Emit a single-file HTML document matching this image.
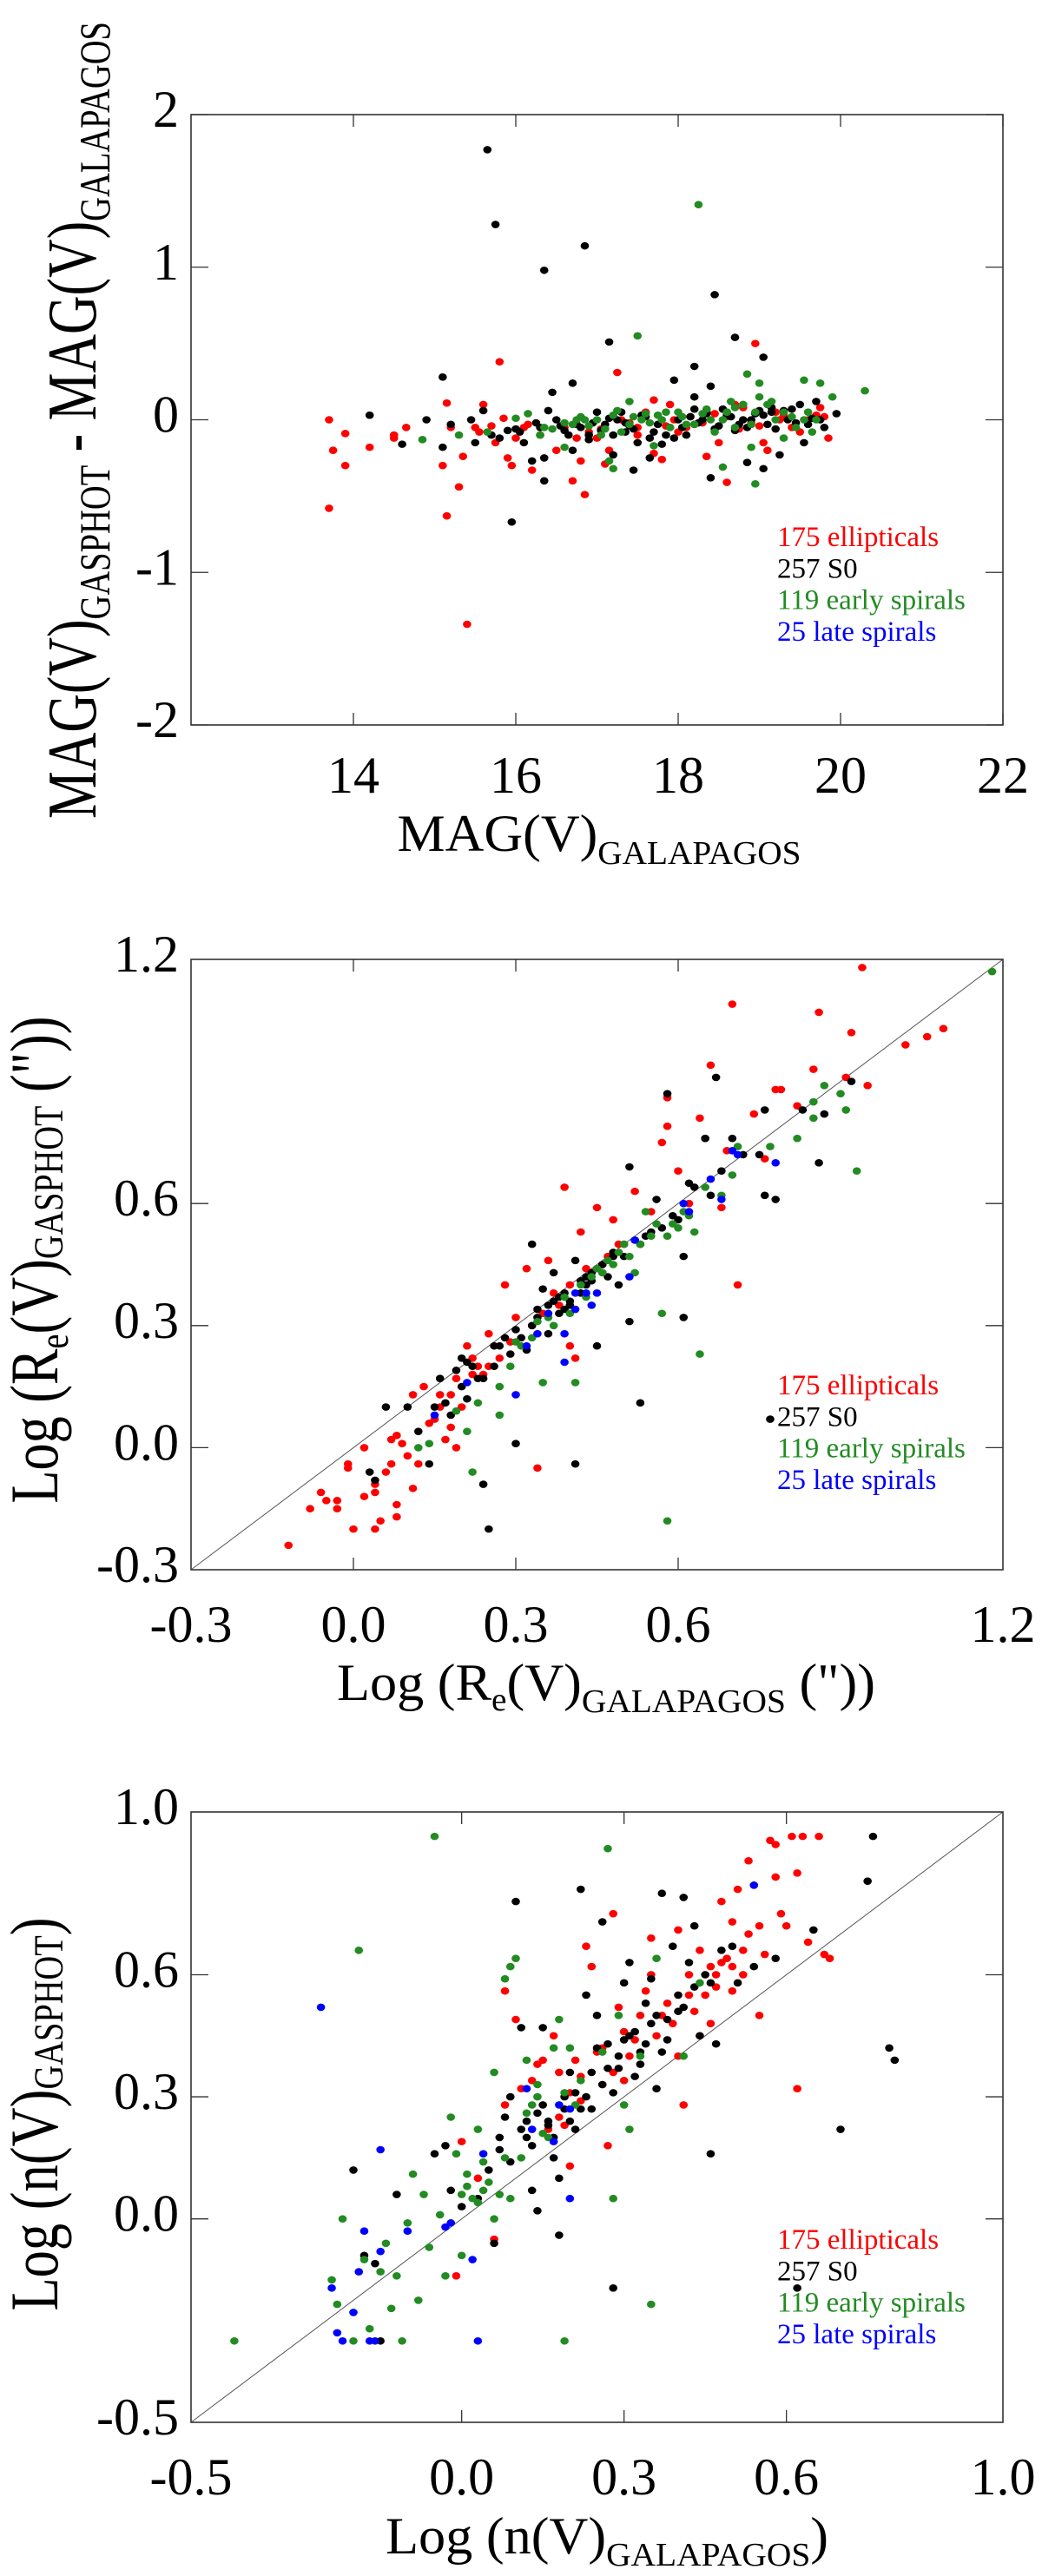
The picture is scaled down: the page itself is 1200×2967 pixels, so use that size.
<!DOCTYPE html>
<html><head><meta charset="utf-8"><style>
html,body{margin:0;padding:0;background:#fff;}
svg{display:block;}
svg text{font-family:"Liberation Serif","DejaVu Serif",serif;}
</style></head><body>
<svg id="fig" width="1200" height="2967" viewBox="0 0 1200 2967" xmlns="http://www.w3.org/2000/svg" font-family="Liberation Serif, serif"></svg>
<script>
// ---------- Panel 1 data: MAG(V) ----------
const p1Ticks = [14,16,18,20,22];
const p1YTicks = [-2,-1,0,1,2];
const p1RedX = [13.7,13.75,13.9,13.9,13.7,14.2,14.5,14.5,14.65,15.1,15.15,15.15,15.3,15.35,15.4,15.6,15.8,15.9,15.95,16.2,16.7,16.85,17.25,18.95,18.6,18.35,17.7,17.8,17.1,16.8,15.2,15.5,15.7,15.85,16.1,16.3,17.0,17.5,18.0,18.3,18.6,18.8,19.0,19.2,19.4,19.6,19.8,19.85,19.75,17.7,17.3,18.1,19.1,19.05,18.5,17.9,16.6,16.9,17.5,18.7,19.3,16.0,16.5,17.15,17.6,15.55,15.75,16.15,16.75,17.05,17.4,17.85,18.15,18.45,18.9,19.25,19.5,19.7,17.95,18.75];
const p1RedY = [0,-0.2,-0.09,-0.3,-0.58,-0.18,-0.1,-0.12,-0.05,-0.3,-0.63,0.11,-0.44,-0.24,-1.34,0.1,0.38,-0.25,-0.3,-0.33,-0.4,-0.49,0.31,0.5,-0.41,-0.24,-0.22,-0.26,-0.29,-0.27,-0.05,-0.05,-0.04,0.01,-0.05,-0.1,-0.12,-0.1,-0.08,-0.02,0.02,0.08,-0.04,0.05,-0.05,0,0.02,-0.12,0.08,0.13,0,-0.05,-0.2,-0.15,-0.15,0.1,-0.05,-0.08,-0.05,0.1,0.03,-0.12,-0.2,-0.2,0.05,-0.08,-0.15,-0.03,-0.12,-0.06,-0.02,-0.04,0.02,0.04,-0.02,0.0,-0.08,0.03,0.0,-0.06];
const p1BlackX = [14.2,14.6,14.9,15.1,15.1,15.2,15.45,15.5,15.6,15.65,15.75,15.95,16.0,16.1,16.2,16.35,16.35,16.35,16.45,16.7,16.7,16.85,17.15,17.2,17.45,17.8,17.95,18.2,18.2,18.4,18.45,18.7,19.05,18.4,19.05,18.85,19.25,19.95,19.7,19.5,19.55,19.15,18.9,18.6,18.2,17.9,17.6,17.3,17.0,16.8,16.5,16.3,15.9,15.8,16.6,17.1,17.4,17.7,18.0,18.3,18.5,18.8,19.1,19.35,19.6,19.8,17.2,17.5,18.1,18.7,16.9,19.4,18.55,17.65,16.9,19.0,18.2,17.35,16.4,15.7,16.05,16.25,16.55,16.65,16.95,17.05,17.25,17.45,17.55,17.75,17.85,18.05,18.15,18.25,18.35,18.45,18.65,18.75,18.95,19.2,19.3,19.45,19.65,19.75,16.75,17.15,17.65,18.35,18.85,19.15,17.35,17.95,18.6,19.05];
const p1BlackY = [0.03,-0.16,0,-0.18,0.28,-0.03,0,-0.15,0.06,1.77,1.28,-0.67,-0.06,-0.15,-0.27,-0.4,0.98,-0.25,0.18,-0.2,0.24,1.14,0.51,-0.23,-0.33,-0.16,0.26,0.35,0.15,0.22,0.82,0.54,0.41,-0.38,-0.32,-0.28,-0.23,0.04,0.12,0.1,-0.15,0.05,0,0.05,0.07,-0.05,0.02,0.05,0.05,-0.05,0,-0.05,-0.07,-0.12,-0.07,-0.03,-0.04,-0.08,0,0,-0.04,0,-0.03,0,-0.03,-0.05,-0.1,-0.15,-0.1,-0.07,-0.13,0.07,0.07,-0.25,-0.1,0.06,-0.03,-0.02,0.06,-0.1,-0.08,-0.02,-0.04,-0.1,-0.02,-0.07,0.0,-0.06,0.03,-0.03,-0.1,-0.05,0.02,-0.02,0.04,-0.06,0.02,-0.03,0.04,-0.06,0.06,-0.02,0.01,0.0,-0.03,0.01,-0.12,0.05,-0.05,0.08,-0.08,-0.12,0.03,0.03];
const p1GreenX = [14.85,15.3,15.65,16.0,16.15,16.35,16.6,16.75,17.05,17.15,17.2,17.5,17.4,17.7,18.25,18.55,18.85,18.95,19.0,19.55,19.75,19.9,20.3,18.9,19.3,19.6,19.7,19.0,18.8,18.6,18.4,18.2,18.0,17.8,17.6,17.4,17.2,17.0,16.8,16.9,17.3,17.55,17.75,18.05,18.3,18.7,19.1,19.3,19.45,19.65,17.9,18.45,16.3,16.6,18.7,19.2,16.45,16.85,17.25,17.45,17.65,17.85,18.1,18.35,18.55,18.8,18.95,19.15,19.4,19.55,16.7,17.1,18.65,18.9];
const p1GreenY = [-0.13,-0.1,-0.08,0.01,0.04,-0.05,-0.18,0,-0.1,-0.27,-0.32,0.55,0.12,-0.17,1.41,-0.31,0.3,-0.42,0.24,0.26,0.24,0.15,0.19,-0.18,-0.12,0.05,0,0.15,0.1,0.05,0,-0.03,0.05,0,0.04,-0.03,0.03,0,0.02,-0.04,-0.08,0,0.03,0.02,0.04,0.08,0.1,0.05,-0.05,-0.08,-0.05,-0.08,-0.1,-0.02,-0.05,0,-0.06,0.0,0.06,0.02,-0.02,0.05,-0.03,0.07,0.0,0.1,0.05,0.12,0.02,0.0,-0.03,-0.06,0.12,-0.03];

// ---------- Panel 2 data: Log Re ----------
const p2Ticks = [-0.3,0.0,0.3,0.6,1.2];
const p2MinorTicks = [0.0,0.3,0.6];
const p2RedX = [-0.12,-0.08,-0.06,-0.05,-0.03,-0.03,-0.01,-0.01,0.0,0.02,0.02,0.04,0.04,0.04,0.05,0.06,0.07,0.07,0.08,0.08,0.08,0.09,0.1,0.11,0.11,0.12,0.13,0.14,0.15,0.16,0.17,0.18,0.18,0.19,0.2,0.21,0.22,0.23,0.24,0.25,0.27,0.28,0.3,0.32,0.34,0.35,0.36,0.38,0.39,0.4,0.41,0.42,0.44,0.45,0.48,0.49,0.52,0.55,0.57,0.58,0.58,0.6,0.62,0.64,0.65,0.66,0.68,0.69,0.7,0.71,0.74,0.76,0.78,0.79,0.82,0.86,0.85,0.91,0.92,0.94,1.02,1.06,1.09,0.95,0.5,0.47,0.43,0.37,0.16,0.19,0.22,0.25,0.29,0.33,0.4,0.46];
const p2RedY = [-0.24,-0.15,-0.11,-0.13,-0.13,-0.15,-0.04,-0.05,-0.2,-0.12,0.0,-0.09,-0.11,-0.2,-0.18,-0.06,-0.04,0.02,0.03,-0.14,-0.17,0.01,-0.02,-0.1,0.13,-0.04,0.15,0.06,0.07,0.1,0.02,0.05,0.13,0.0,0.1,0.25,0.22,0.2,0.18,0.28,0.22,0.4,0.32,0.44,-0.05,0.33,0.46,0.35,0.64,0.25,0.22,0.53,0.43,0.59,0.56,0.5,0.63,0.58,0.75,0.86,0.79,0.68,0.6,0.81,0.76,0.94,0.59,0.73,1.09,0.4,0.82,0.71,0.88,0.88,0.84,1.07,0.93,0.91,1.02,1.18,0.99,1.01,1.03,0.89,0.5,0.47,0.44,0.38,0.13,0.17,0.18,0.2,0.26,0.3,0.4,0.45];
const p2BlackX = [0.03,0.04,0.06,0.1,0.12,0.14,0.15,0.16,0.18,0.2,0.21,0.22,0.24,0.25,0.26,0.28,0.3,0.3,0.32,0.33,0.34,0.35,0.36,0.37,0.38,0.39,0.4,0.41,0.41,0.42,0.43,0.44,0.45,0.46,0.48,0.49,0.5,0.51,0.51,0.53,0.54,0.56,0.57,0.58,0.6,0.61,0.61,0.62,0.63,0.65,0.66,0.67,0.68,0.7,0.72,0.75,0.76,0.78,0.76,0.83,0.86,0.87,0.92,0.2,0.26,0.33,0.36,0.38,0.45,0.47,0.29,0.23,0.17,0.43,0.39,0.53,0.77,0.19,0.21,0.24,0.27,0.31,0.34,0.37,0.4,0.42,0.44,0.46,0.48,0.52,0.55,0.59];
const p2BlackY = [-0.06,-0.08,0.1,0.1,0.04,-0.04,0.1,0.17,0.08,0.15,0.12,0.2,-0.09,-0.2,0.25,0.27,0.01,0.29,0.24,0.5,0.32,0.39,0.35,0.43,0.37,0.34,0.36,0.46,-0.04,0.38,0.42,0.43,0.25,0.45,0.48,0.4,0.47,0.31,0.69,0.11,0.52,0.61,0.54,0.87,0.56,0.47,0.32,0.65,0.64,0.76,0.62,0.91,0.68,0.76,0.72,0.72,0.62,0.61,0.83,0.83,0.7,0.82,0.9,0.22,0.2,0.3,0.28,0.33,0.44,0.42,0.23,0.17,0.11,0.4,0.38,0.5,0.07,0.19,0.21,0.17,0.25,0.27,0.34,0.36,0.35,0.41,0.41,0.43,0.47,0.51,0.53,0.57];
const p2GreenX = [0.12,0.14,0.19,0.21,0.22,0.23,0.27,0.27,0.29,0.3,0.33,0.35,0.37,0.4,0.41,0.43,0.44,0.45,0.47,0.49,0.52,0.54,0.56,0.57,0.58,0.58,0.6,0.62,0.63,0.64,0.65,0.68,0.7,0.71,0.77,0.82,0.85,0.85,0.87,0.91,0.9,0.93,1.18,0.5,0.53,0.48,0.39,0.34,0.31,0.36,0.42,0.46,0.51,0.55,0.59,0.61];
const p2GreenY = [0.0,0.01,0.09,0.04,-0.06,0.11,0.08,0.15,0.2,0.26,0.27,0.16,0.3,0.33,0.16,0.37,0.42,0.44,0.46,0.48,0.43,0.58,0.55,0.33,0.52,-0.18,0.54,0.57,0.53,0.23,0.64,0.62,0.67,0.74,0.74,0.76,0.81,0.85,0.89,0.83,0.87,0.68,1.17,0.5,0.5,0.45,0.37,0.31,0.25,0.32,0.4,0.43,0.47,0.52,0.55,0.58];
const p2BlueX = [0.15,0.21,0.3,0.32,0.34,0.36,0.39,0.39,0.41,0.41,0.43,0.44,0.45,0.51,0.52,0.61,0.62,0.66,0.68,0.7,0.71,0.78];
const p2BlueY = [0.08,0.16,0.13,0.25,0.28,0.33,0.21,0.28,0.34,0.38,0.38,0.35,0.38,0.42,0.51,0.6,0.58,0.66,0.61,0.73,0.72,0.7];

// ---------- Panel 3 data: Log n ----------
const p3XTicks = [-0.5,0.0,0.3,0.6,1.0];
const p3YTicks = [-0.5,0.0,0.3,0.6,1.0];
const p3MinorTicks = [0.0,0.3,0.6];
const p3RedX = [0.0,0.03,0.06,0.08,0.08,0.1,0.11,0.13,0.14,0.15,0.16,0.17,0.18,0.19,0.2,0.2,0.21,0.22,0.23,0.24,0.25,0.26,0.27,0.28,0.28,0.29,0.3,0.32,0.34,0.35,0.35,0.37,0.38,0.4,0.4,0.41,0.42,0.43,0.44,0.45,0.46,0.47,0.48,0.49,0.5,0.5,0.51,0.52,0.53,0.54,0.55,0.55,0.57,0.58,0.58,0.59,0.6,0.61,0.62,0.62,0.63,0.64,0.66,0.67,0.68,0.44,0.46,0.52,0.48,0.36,0.3,0.18,-0.01,0.22,0.26,0.31,0.33,0.39,0.42,0.47,0.5,0.53,0.56];
const p3RedY = [0.19,0.1,-0.05,0.56,0.28,0.49,0.32,0.34,0.38,0.39,0.22,0.45,0.36,0.23,0.13,0.31,0.39,0.29,0.67,0.62,0.41,0.33,0.18,0.36,0.75,0.52,0.34,0.44,0.56,0.6,0.69,0.5,0.53,0.71,0.4,0.28,0.6,0.51,0.66,0.55,0.62,0.6,0.78,0.64,0.56,0.73,0.81,0.66,0.88,0.82,0.72,0.5,0.93,0.92,0.84,0.75,0.72,0.94,0.85,0.32,0.94,0.68,0.94,0.65,0.64,0.45,0.48,0.6,0.63,0.45,0.46,0.25,-0.14,0.35,0.42,0.4,0.5,0.48,0.55,0.57,0.62,0.7,0.65];
const p3BlackX = [-0.2,-0.18,-0.16,-0.15,-0.12,-0.05,-0.03,-0.02,0.0,0.03,0.05,0.07,0.08,0.09,0.1,0.11,0.12,0.13,0.14,0.15,0.16,0.17,0.18,0.18,0.19,0.2,0.21,0.22,0.23,0.24,0.25,0.26,0.27,0.28,0.29,0.3,0.31,0.32,0.33,0.34,0.35,0.36,0.37,0.38,0.39,0.4,0.41,0.42,0.43,0.44,0.45,0.46,0.46,0.47,0.48,0.5,0.51,0.54,0.58,0.62,0.65,0.7,0.75,0.76,0.79,0.8,0.07,0.11,0.15,0.2,0.25,0.3,0.35,0.27,0.33,0.14,0.23,0.4,0.06,0.09,0.12,0.16,0.19,0.22,0.24,0.26,0.29,0.31,0.34,0.36,0.38,0.41,0.43,0.28,0.21,0.17,0.13,0.32,0.37];
const p3BlackY = [0.12,-0.09,-0.11,-0.3,0.06,0.16,0.18,0.07,0.03,0.05,0.12,0.2,0.25,0.3,0.78,0.47,0.24,0.18,0.02,0.47,0.23,0.2,0.1,-0.04,0.27,0.24,0.31,0.81,0.55,0.27,0.5,0.73,0.43,-0.17,0.37,0.58,0.63,0.46,0.41,0.53,0.59,0.32,0.8,0.49,0.67,0.51,0.79,0.63,0.72,0.45,0.6,0.58,0.16,0.43,0.66,0.67,0.58,0.62,0.64,-0.17,0.71,0.22,0.83,0.94,0.42,0.39,0.17,0.22,0.28,0.36,0.42,0.44,0.48,0.37,0.38,0.26,0.3,0.55,-0.06,0.14,0.2,0.24,0.3,0.27,0.36,0.33,0.4,0.45,0.43,0.5,0.44,0.52,0.57,0.31,0.22,0.15,0.07,0.35,0.41];
const p3GreenX = [-0.42,-0.24,-0.23,-0.22,-0.2,-0.19,-0.18,-0.17,-0.15,-0.14,-0.13,-0.12,-0.11,-0.1,-0.09,-0.08,-0.07,-0.06,-0.05,-0.04,-0.03,-0.02,-0.01,0.0,0.0,0.01,0.02,0.03,0.04,0.05,0.06,0.07,0.08,0.09,0.1,0.11,0.12,0.13,0.14,0.15,0.16,0.17,0.18,0.19,0.2,0.21,0.22,0.26,0.27,0.28,0.29,0.31,0.33,0.35,0.36,0.44,0.41,0.3,0.03,0.06,0.09,0.01,0.04,0.08,0.12,0.14,0.19];
const p3GreenY = [-0.3,-0.15,-0.21,0.0,-0.3,0.66,-0.1,-0.27,-0.13,-0.06,-0.22,-0.14,-0.3,-0.01,0.11,-0.2,0.06,-0.07,0.94,0.01,-0.14,0.25,0.16,0.06,-0.09,0.11,0.05,0.22,0.14,0.09,0.36,0.06,0.59,0.62,0.64,0.15,0.39,0.28,0.3,0.21,0.2,0.42,0.49,-0.3,0.42,0.28,0.34,0.41,0.91,0.05,0.5,0.22,0.4,-0.21,0.64,0.58,0.4,0.28,0.04,0.0,0.05,0.08,0.07,0.15,0.26,0.33,0.31];
const p3BlueX = [-0.26,-0.24,-0.23,-0.22,-0.2,-0.19,-0.18,-0.17,-0.16,-0.15,-0.15,-0.1,-0.03,-0.02,0.02,0.03,0.04,0.12,0.13,0.17,0.18,0.2,0.2,0.54];
const p3BlueY = [0.52,-0.17,-0.28,-0.3,-0.23,-0.13,-0.03,-0.3,-0.3,0.17,-0.08,-0.03,-0.02,-0.01,-0.1,-0.3,0.16,0.32,0.22,0.19,0.28,0.27,0.05,0.82];

const legendLabels = ["175 ellipticals","257 S0","119 early spirals","25 late spirals"];
const COLORS = {red:"#ff0000",black:"#000000",green:"#228b22",blue:"#0000ff"};
const SERIF = '"Liberation Serif", "DejaVu Serif", serif';

const NS = "http://www.w3.org/2000/svg";
const fig = document.getElementById('fig');
function mk(tag, attrs, parent){
  const e = document.createElementNS(NS, tag);
  for (const k in attrs) e.setAttribute(k, attrs[k]);
  if (tag === 'text') e.style.fontFamily = SERIF;
  (parent||fig).appendChild(e);
  return e;
}
function titleText(parent, x, y, opts){
  const t = mk('text', {x:x, y:y, 'font-size':60, 'text-anchor':'middle', fill:'#000'}, parent);
  if (opts.rotate) t.setAttribute('transform', 'rotate(-90 '+x+' '+y+')');
  if (opts.len){ t.setAttribute('textLength', opts.len); t.setAttribute('lengthAdjust','spacingAndGlyphs'); }
  opts.parts.forEach(p=>{
    const s = mk('tspan', {}, t);
    if (p.fs) s.setAttribute('font-size', p.fs);
    else if (p.sub) s.setAttribute('font-size', 38);
    if (p.dy) s.setAttribute('dy', p.dy);
    s.textContent = p.t;
  });
  return t;
}

function panel(cfg){
  const g = mk('g', {});
  
  
  const L=220, R=1155, T=cfg.top, B=cfg.top+703;
  const sx = v => L + (v-cfg.xmin)/(cfg.xmax-cfg.xmin)*(R-L);
  const sy = v => B - (v-cfg.ymin)/(cfg.ymax-cfg.ymin)*(B-T);
  if (cfg.diag){
    const d = mk('line', {x1:sx(cfg.xmin), y1:sy(cfg.xmin), x2:sx(cfg.xmax), y2:sy(cfg.xmax), stroke:'#555', 'stroke-width':1}, g);
    
    
  }
  const series = [['red', cfg.red], ['black', cfg.black], ['green', cfg.green], ['blue', cfg.blue]];
  series.forEach(([c, s])=>{
    if(!s) return;
    const sg = mk('g', {fill:COLORS[c]}, g);
    
    
    for (let i=0;i<s[0].length;i++){
      const p = mk('ellipse', {cx:sx(s[0][i]), cy:sy(s[1][i]), rx:4.8, ry:4.3}, sg);
      
      
    }
  });
  const fr = mk('rect', {x:L, y:T, width:R-L, height:B-T, fill:'none', stroke:'#333', 'stroke-width':1.6}, g);
  
  
  cfg.xTickMarks.forEach(v=>{
    const x = sx(v);
    mk('line', {x1:x, y1:B, x2:x, y2:B-14, stroke:'#333', 'stroke-width':1.3}, g);
    mk('line', {x1:x, y1:T, x2:x, y2:T+14, stroke:'#333', 'stroke-width':1.3}, g);
  });
  cfg.yTickMarks.forEach(v=>{
    const y = sy(v);
    mk('line', {x1:L, y1:y, x2:L+20, y2:y, stroke:'#333', 'stroke-width':1.3}, g);
    mk('line', {x1:R, y1:y, x2:R-20, y2:y, stroke:'#333', 'stroke-width':1.3}, g);
  });
  cfg.xLabels.forEach(v=>{
    const t = mk('text', {x:sx(v), y:cfg.xLabelY, 'font-size':60, 'text-anchor':'middle'}, g);
    
    
    t.textContent = cfg.fmt(v);
  });
  cfg.yLabels.forEach(v=>{
    const t = mk('text', {x:206, y:sy(v)+14, 'font-size':60, 'text-anchor':'end'}, g);
    
    
    t.textContent = cfg.fmt(v);
  });
  const lg = mk('g', {}, g);
  
  
  const lc = ['red','black','green','blue'];
  legendLabels.forEach((s,i)=>{
    const t = mk('text', {x:895, y:cfg.legendY+i*36.3, 'font-size':33, fill:COLORS[lc[i]]}, lg);
    
    
    t.textContent = s;
  });
  return g;
}

const fmt1 = v => (v<0?'-':'') + Math.abs(v).toFixed(1);
panel({name:'panel-magnitude', top:132, xmin:12, xmax:22, ymin:-2, ymax:2,
  red:[p1RedX,p1RedY], black:[p1BlackX,p1BlackY], green:[p1GreenX,p1GreenY],
  xTickMarks:p1Ticks, yTickMarks:p1YTicks, xLabels:p1Ticks, yLabels:p1YTicks,
  xLabelY:913, fmt:v=>String(v), legendY:629});
panel({name:'panel-effective-radius', top:1105, xmin:-0.3, xmax:1.2, ymin:-0.3, ymax:1.2, diag:true,
  red:[p2RedX,p2RedY], black:[p2BlackX,p2BlackY], green:[p2GreenX,p2GreenY], blue:[p2BlueX,p2BlueY],
  xTickMarks:p2MinorTicks, yTickMarks:p2MinorTicks, xLabels:p2Ticks, yLabels:p2Ticks,
  xLabelY:1891, fmt:fmt1, legendY:1606});
panel({name:'panel-sersic-index', top:2087, xmin:-0.5, xmax:1.0, ymin:-0.5, ymax:1.0, diag:true,
  red:[p3RedX,p3RedY], black:[p3BlackX,p3BlackY], green:[p3GreenX,p3GreenY], blue:[p3BlueX,p3BlueY],
  xTickMarks:p3MinorTicks, yTickMarks:p3MinorTicks, xLabels:p3XTicks, yLabels:p3YTicks,
  xLabelY:2873, fmt:fmt1, legendY:2590});

let t;
t = titleText(fig, 690, 980, {len:465, parts:[{t:'MAG(V)'},{t:'GALAPAGOS',sub:true,dy:15}]});


t = titleText(fig, 110, 484, {rotate:true, len:918, parts:[{t:'MAG(V)',fs:80},{t:'GASPHOT',fs:50,dy:16},{t:' - MAG(V)',dy:-16,fs:80},{t:'GALAPAGOS',fs:50,dy:16}]});



t = titleText(fig, 698, 1958, {len:620, parts:[{t:'Log (R'},{t:'e',sub:true,dy:12},{t:'(V)',dy:-12,fs:60},{t:'GALAPAGOS',sub:true,dy:14},{t:' ("))',dy:-14,fs:60}]});


t = titleText(fig, 66, 1451, {rotate:true, len:561, parts:[{t:'Log (R',fs:78},{t:'e',dy:12,fs:48},{t:'(V)',dy:-12,fs:78},{t:'GASPHOT',dy:6,fs:48},{t:' ("))',dy:-6,fs:78}]});



t = titleText(fig, 699, 2941, {len:510, parts:[{t:'Log (n(V)'},{t:'GALAPAGOS',sub:true,dy:14},{t:')',dy:-14,fs:60}]});


t = titleText(fig, 66, 2435, {rotate:true, len:453, parts:[{t:'Log (n(V)',fs:78},{t:'GASPHOT',dy:6,fs:48},{t:')',dy:-6,fs:78}]});


</script>
</body></html>
